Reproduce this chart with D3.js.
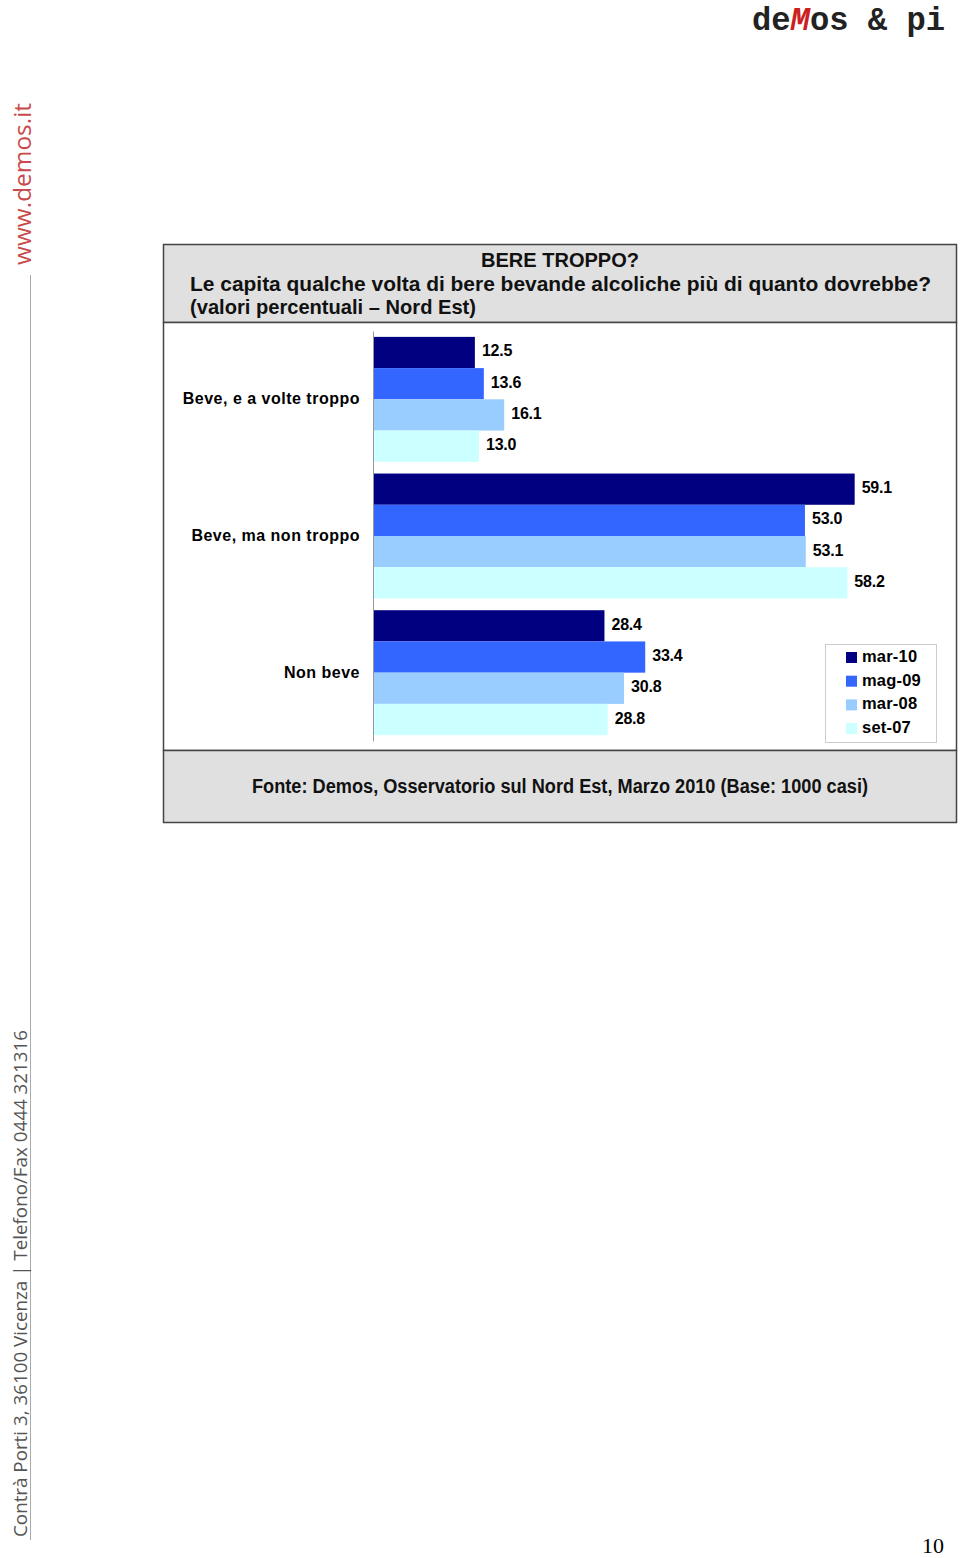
<!DOCTYPE html>
<html><head><meta charset="utf-8">
<script src="https://cdn.jsdelivr.net/npm/d3@7"></script>
<style>body{margin:0;background:#fff;}svg{display:block;}</style>
</head><body>
<svg id="c" width="960" height="1558"></svg>
<script>
const categories = ["Beve, e a volte troppo", "Beve, ma non troppo", "Non beve"];
const seriesNames = ["mar-10", "mag-09", "mar-08", "set-07"];
const mar10 = [12.5, 59.1, 28.4];
const mag09 = [13.6, 53.0, 33.4];
const mar08 = [16.1, 53.1, 30.8];
const set07 = [13.0, 58.2, 28.8];
const seriesValues = [mar10, mag09, mar08, set07];
const colors = ["#000080", "#3366FF", "#99CCFF", "#CCFFFF"];

const svg = d3.select("#c");
const narrow = "'Liberation Sans Narrow', 'Arial Narrow', 'Liberation Sans', Arial, sans-serif";
const sans = "'Liberation Sans', Arial, Helvetica, sans-serif";

// Logo
const logo = svg.append("text").attr("x", 752).attr("y", 30)
  .attr("font-family", "'Liberation Mono', 'DejaVu Sans Mono', monospace")
  .attr("font-weight", "bold").attr("font-size", 34).attr("fill", "#222")
  .attr("textLength", 193).attr("lengthAdjust", "spacingAndGlyphs");
logo.append("tspan").text("de");
logo.append("tspan").attr("fill", "#cc1f1f").attr("font-style", "italic").text("M");
logo.append("tspan").text("os & pi");

// Left side texts
svg.append("line").attr("x1", 30.5).attr("x2", 30.5).attr("y1", 275).attr("y2", 1540)
  .attr("stroke", "#aaa").attr("stroke-width", 1);
svg.append("text").attr("transform", "translate(31,265) rotate(-90)")
  .attr("font-family", "'Open Sans', 'Noto Sans', sans-serif").attr("font-size", 24)
  .attr("fill", "#c84a4a").attr("textLength", 162).attr("lengthAdjust", "spacingAndGlyphs")
  .text("www.demos.it");
svg.append("text").attr("transform", "translate(27,1537) rotate(-90)")
  .attr("font-family", "'Open Sans', 'Noto Sans', sans-serif").attr("font-size", 19)
  .attr("fill", "#555").attr("textLength", 507).attr("lengthAdjust", "spacingAndGlyphs")
  .text("Contrà Porti 3, 36100 Vicenza | Telefono/Fax 0444 321316");

// Page number
svg.append("text").attr("x", 944).attr("y", 1553).attr("text-anchor", "end")
  .attr("font-family", "'Liberation Serif', 'Times New Roman', serif").attr("font-size", 22)
  .attr("fill", "#000").text("10");

// Frame
const L = 163.5, R = 956.5;
svg.append("rect").attr("x", L).attr("y", 244.5).attr("width", R - L).attr("height", 78)
  .attr("fill", "#e0e0e0").attr("stroke", "#444").attr("stroke-width", 1.5);
svg.append("rect").attr("x", L).attr("y", 322.5).attr("width", R - L).attr("height", 428)
  .attr("fill", "#fff").attr("stroke", "#444").attr("stroke-width", 1.5);
svg.append("rect").attr("x", L).attr("y", 750.5).attr("width", R - L).attr("height", 72)
  .attr("fill", "#e0e0e0").attr("stroke", "#444").attr("stroke-width", 1.5);

// Title
const tt = [
  {t: "BERE TROPPO?", x: 560, y: 267, a: "middle", w: 158},
  {t: "Le capita qualche volta di bere bevande alcoliche più di quanto dovrebbe?", x: 190, y: 291, a: "start", w: 741},
  {t: "(valori percentuali – Nord Est)", x: 190, y: 314, a: "start", w: 286}
];
tt.forEach(d => {
  svg.append("text").attr("x", d.x).attr("y", d.y).attr("text-anchor", d.a)
    .attr("font-family", narrow).attr("font-weight", "bold").attr("font-size", 21)
    .attr("fill", "#111").attr("textLength", d.w).attr("lengthAdjust", "spacingAndGlyphs").text(d.t);
});

// Footer
svg.append("text").attr("x", 560).attr("y", 793).attr("text-anchor", "middle")
  .attr("font-family", narrow).attr("font-weight", "bold").attr("font-size", 20)
  .attr("fill", "#111").attr("textLength", 616).attr("lengthAdjust", "spacingAndGlyphs")
  .text("Fonte: Demos, Osservatorio sul Nord Est, Marzo 2010 (Base: 1000 casi)");

// Scales
const x = d3.scaleLinear().domain([0, 70]).range([373, 943.5]);
const y = d3.scaleBand().domain(categories).range([331, 741]).paddingInner(0.086).paddingOuter(0.043);
const ys = d3.scaleBand().domain(seriesNames).range([0, y.bandwidth()]);

const g = svg.append("g");
seriesNames.forEach((s, si) => {
  const vals = seriesValues[si];
  g.selectAll(null).data(categories).enter().append("rect")
    .attr("x", x(0)).attr("y", c => y(c) + ys(s))
    .attr("width", (c, i) => x(vals[i]) - x(0)).attr("height", ys.bandwidth())
    .attr("fill", colors[si]);
  g.selectAll(null).data(categories).enter().append("text")
    .attr("x", (c, i) => x(vals[i]) + 7).attr("y", c => y(c) + ys(s) + ys.bandwidth() / 2 + 4)
    .attr("font-family", sans).attr("font-weight", "bold").attr("font-size", 16)
    .attr("letter-spacing", -0.2).attr("fill", "#000")
    .text((c, i) => vals[i].toFixed(1));
});

// Axis
const ax = svg.append("g").attr("transform", `translate(${x(0)},0)`)
  .call(d3.axisLeft(y).tickSize(0).tickPadding(13));
ax.select(".domain").attr("stroke", "#999").attr("stroke-width", 1);
ax.selectAll(".tick text").attr("font-family", sans).attr("font-weight", "bold")
  .attr("font-size", 16).attr("letter-spacing", 0.5).attr("fill", "#000");

// Legend
const lg = svg.append("g");
lg.append("rect").attr("x", 825.5).attr("y", 644.5).attr("width", 111).attr("height", 98)
  .attr("fill", "#fff").attr("stroke", "#ccc");
seriesNames.forEach((s, i) => {
  const yy = 656 + i * 23.7;
  lg.append("rect").attr("x", 846).attr("y", yy - 4).attr("width", 11).attr("height", 11).attr("fill", colors[i]);
  lg.append("text").attr("x", 862).attr("y", yy + 6).attr("font-family", sans)
    .attr("font-weight", "bold").attr("font-size", 16.5).attr("letter-spacing", 0.2).attr("fill", "#000").text(s);
});
</script>
</body></html>
